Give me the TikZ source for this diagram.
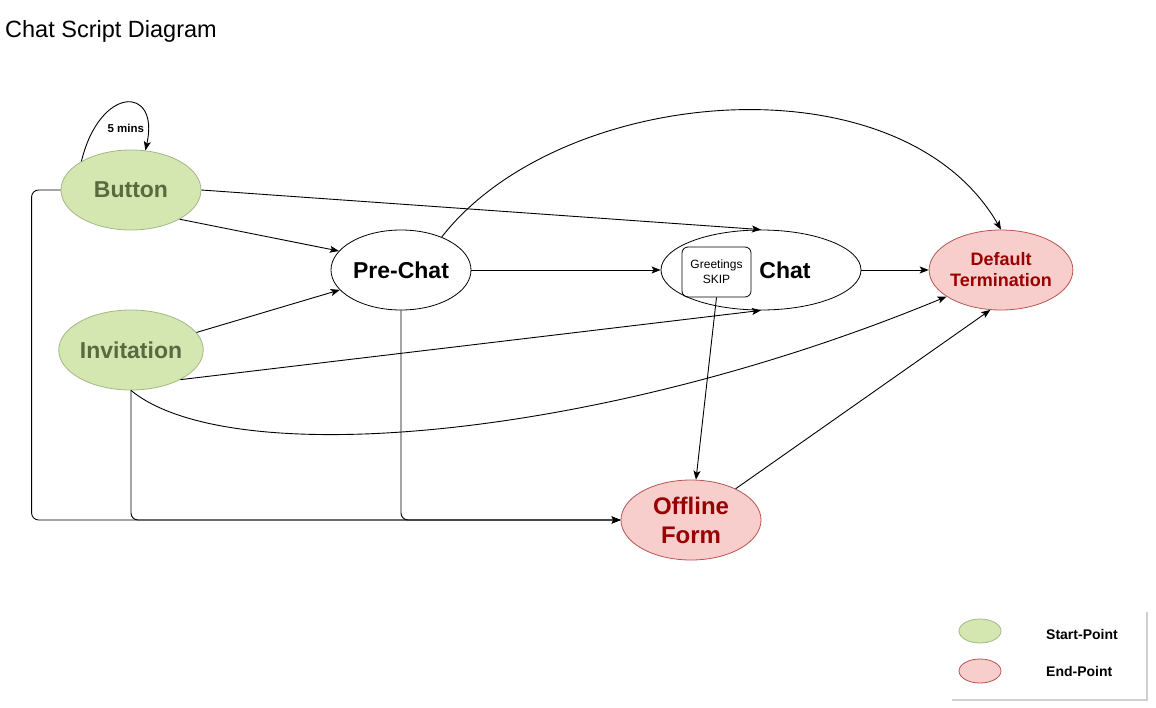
\documentclass[tikz,border=0pt]{standalone}
\usepackage{fontspec}
\setmainfont{Liberation Sans}
\usetikzlibrary{shapes.geometric,arrows.meta}
\definecolor{startfill}{HTML}{D4E7B0}
\definecolor{startborder}{HTML}{A3B787}
\definecolor{starttext}{HTML}{5A6A40}
\definecolor{endfill}{HTML}{F8CECC}
\definecolor{endborder}{HTML}{B85450}
\definecolor{endtext}{HTML}{990000}
\definecolor{shadowgray}{HTML}{D0D0D0}
\tikzset{
  ell/.style={ellipse, minimum width=140pt, minimum height=80pt, inner sep=0pt, line width=0.8pt, align=center},
  startnode/.style={ell, draw=startborder, fill=startfill, text=starttext, font=\fontsize{23}{27}\selectfont\bfseries},
  endnode/.style={ell, draw=endborder, fill=endfill, text=endtext},
  plainnode/.style={ell, draw=black, fill=white, font=\fontsize{23}{27}\selectfont\bfseries},
  conn/.style={line width=0.9pt, -{Stealth[length=9pt,width=7pt,inset=2pt]}},
  legendell/.style={ellipse, minimum width=42pt, minimum height=24pt, inner sep=0pt, line width=0.8pt},
  legendtext/.style={anchor=west, inner sep=0pt, font=\fontsize{14}{16}\selectfont\bfseries}
}
\begin{document}
\begin{tikzpicture}[x=1pt,y=-1pt]
\useasboundingbox (0,0) rectangle (1156,707);
\node[anchor=west, inner sep=0pt, font=\fontsize{23.5}{27}\selectfont] (title) at (5,31) {Chat Script Diagram};

% nodes
\node[startnode] (button) at (131,190) {Button};
\node[startnode] (inv) at (131,350) {Invitation};
\node[plainnode] (prechat) at (401,270) {Pre-Chat};
\node[plainnode, minimum width=200pt] (chat) at (761,270) {};
\node[inner sep=0pt, font=\fontsize{23}{27}\selectfont\bfseries] (chatlabel) at (785,270) {Chat};
\node[draw, rounded corners=6pt, line width=0.8pt, minimum width=69pt, minimum height=50pt, inner sep=0pt, align=center, font=\fontsize{12}{15}\selectfont] (greet) at (716.5,272) {Greetings\\SKIP};
\node[endnode, font=\fontsize{18}{21}\selectfont\bfseries] (default) at (1001,270) {Default\\Termination};
\node[endnode, font=\fontsize{24}{29}\selectfont\bfseries] (offline) at (691,520) {Offline\\Form};

% connectors
\draw[conn] (button.150) .. controls (100,85) and (160,85) .. (button.70) node[pos=0.5, below=21pt, font=\fontsize{11.5}{13}\selectfont\bfseries, inner sep=0pt] (loop) {5 mins};
\draw[conn] (button.east) -- (chat.north);
\draw[conn] (button.-31) -- (prechat.163);
\draw[conn] (prechat.east) -- (chat.west);
\draw[conn] (chat.east) -- (default.west);
\draw[conn] (inv.15) -- (prechat.198);
\draw[conn] (inv.-31) -- (chat.south);
\draw[conn] (inv.south) .. controls (230,472) and (600,440) .. (default.206);
\draw[conn] (prechat.39) .. controls (560,85) and (900,55) .. (default.north);
\draw[conn] (greet.south) -- (offline.83);
\draw[conn] (offline.35) -- (default.255);
\draw[conn, rounded corners=7pt] (button.west) -- ++(-29,0) |- (offline.west);
\draw[conn, rounded corners=7pt] (inv.south) |- (offline.west);
\draw[conn, rounded corners=7pt] (prechat.south) |- (offline.west);

% legend
\draw[shadowgray, line width=1.5pt] (952,700) -- (1147,700) -- (1147,612);
\node[legendell, draw=startborder, fill=startfill] (lstart) at (980,631) {};
\node[legendell, draw=endborder, fill=endfill] (lend) at (980,671) {};
\node[legendtext] (lstarttext) at (1046,634) {Start-Point};
\node[legendtext] (lendtext) at (1046,671) {End-Point};
\end{tikzpicture}
\end{document}
